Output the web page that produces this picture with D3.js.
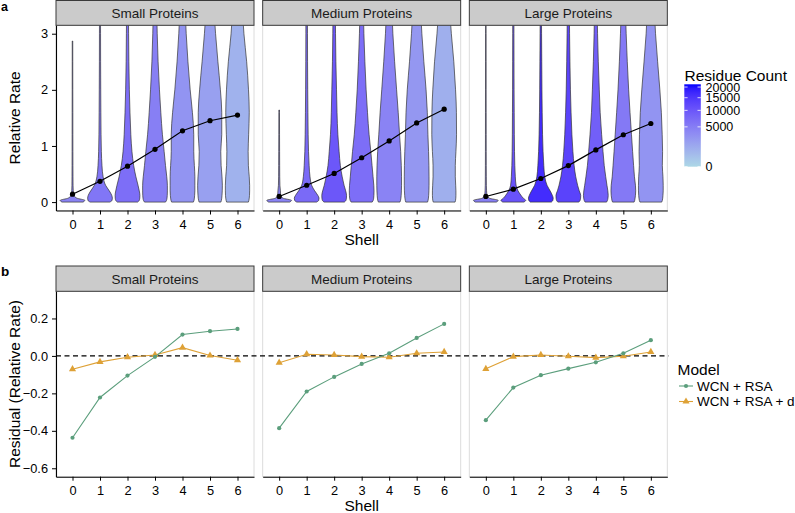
<!DOCTYPE html>
<html><head><meta charset="utf-8">
<script src="https://cdn.jsdelivr.net/npm/d3@7"></script>
<style>
body{margin:0;background:#fff}
text{font-family:"Liberation Sans",Arial,Helvetica,sans-serif;fill:#000}
</style>
</head><body>
<svg id="chart" width="795" height="513"></svg>
<script>
// ---------------- data ----------------
const panels = ["Small Proteins", "Medium Proteins", "Large Proteins"];
const shells = [0, 1, 2, 3, 4, 5, 6];

// mean relative rate per shell (black line, panel a)
const meanSmall  = [0.14, 0.37, 0.64, 0.94, 1.27, 1.45, 1.55];
const meanMedium = [0.10, 0.30, 0.51, 0.79, 1.09, 1.41, 1.655];
const meanLarge  = [0.10, 0.23, 0.42, 0.65, 0.93, 1.20, 1.40];

// residue count per shell (violin fill)
const countSmall  = [4300, 5800, 6700, 4700, 2800, 1900, 860];
const countMedium = [4300, 7200, 9900, 6700, 4300, 2500, 1000];
const countLarge  = [4700, 10500, 16600, 13000, 8800, 5400, 2800];
const countLimits = [0, 21400];
const legendTicks = [0, 5000, 10000, 15000, 20000];

// violin outlines: relative half-width at each rate level
const violinLevels = [0, 0.03, 0.07, 0.12, 0.2, 0.3, 0.45, 0.65, 0.9, 1.2, 1.6, 2.0, 2.5, 3.0, 3.5];
const violinSmall = [
  [0.85,1.0,0.35,0.12,0.06,0.045,0.04,0.035,0.032,0.03,0.028,0.025,0.022,0.02,0.02],
  [0.8,0.97,1.0,0.95,0.75,0.45,0.25,0.16,0.11,0.085,0.07,0.06,0.05,0.045,0.04],
  [0.82,0.95,0.99,1.0,0.95,0.85,0.68,0.5,0.36,0.27,0.2,0.15,0.11,0.09,0.07],
  [0.85,0.93,0.97,0.99,1.0,1.0,0.95,0.85,0.74,0.6,0.47,0.36,0.25,0.18,0.13],
  [0.88,0.93,0.96,0.98,1.0,1.0,1.0,0.96,0.91,0.91,0.8,0.62,0.44,0.3,0.2],
  [0.88,0.92,0.95,0.97,0.99,1.0,0.97,0.9,0.87,0.95,0.95,0.84,0.64,0.45,0.3],
  [0.88,0.92,0.95,0.97,0.98,0.98,0.95,0.88,0.86,0.9,0.95,0.89,0.74,0.52,0.38]
];
const violinMedium = [
  [0.85,1.0,0.3,0.12,0.1,0.06,0.045,0.04,0.035,0.03,0.025,0.025,0.02,0.02,0.02],
  [0.8,0.97,1.0,0.9,0.65,0.4,0.27,0.2,0.15,0.12,0.1,0.085,0.072,0.065,0.06],
  [0.82,0.95,0.99,1.0,0.93,0.8,0.65,0.5,0.4,0.3,0.23,0.19,0.14,0.11,0.09],
  [0.85,0.93,0.97,0.99,1.0,0.98,0.92,0.84,0.74,0.6,0.47,0.36,0.26,0.18,0.13],
  [0.87,0.92,0.95,0.97,0.99,1.0,1.0,0.98,0.93,0.84,0.73,0.6,0.44,0.3,0.2],
  [0.88,0.92,0.95,0.97,0.99,1.0,1.0,0.99,0.96,0.91,0.86,0.76,0.58,0.42,0.3],
  [0.88,0.92,0.94,0.95,0.95,0.93,0.9,0.9,0.95,1.0,0.99,0.92,0.78,0.58,0.42]
];
const violinLarge = [
  [0.85,1.0,0.28,0.1,0.06,0.045,0.04,0.035,0.032,0.03,0.028,0.026,0.024,0.022,0.02],
  [0.85,1.0,0.8,0.62,0.38,0.22,0.16,0.12,0.095,0.08,0.07,0.06,0.055,0.05,0.045],
  [0.85,0.97,1.0,0.93,0.75,0.5,0.32,0.24,0.18,0.14,0.11,0.09,0.075,0.06,0.05],
  [0.85,0.95,0.99,1.0,0.88,0.75,0.6,0.47,0.37,0.29,0.22,0.17,0.13,0.1,0.08],
  [0.87,0.94,0.98,1.0,0.97,0.9,0.8,0.68,0.58,0.47,0.35,0.28,0.2,0.14,0.1],
  [0.87,0.92,0.95,0.98,1.0,0.98,0.9,0.83,0.75,0.66,0.54,0.43,0.32,0.23,0.16],
  [0.88,0.93,0.96,0.98,1.0,1.0,0.98,0.93,0.95,0.92,0.85,0.73,0.55,0.38,0.27]
];
const violinEndSmall  = [2.87, 3.5, 3.5, 3.5, 3.5, 3.5, 3.5];
const violinEndMedium = [1.64, 3.5, 3.5, 3.5, 3.5, 3.5, 3.5];
const violinEndLarge  = [3.5, 3.5, 3.5, 3.5, 3.5, 3.5, 3.5];

// panel b residuals
const models = ["WCN + RSA", "WCN + RSA + d"];
const residRsaSmall   = [-0.437, -0.222, -0.105, -0.005, 0.114, 0.132, 0.144];
const residDSmall     = [-0.071, -0.032, -0.007, 0.005, 0.044, 0.002, -0.023];
const residRsaMedium  = [-0.386, -0.190, -0.112, -0.043, 0.014, 0.096, 0.171];
const residDMedium    = [-0.036, 0.009, 0.005, -0.004, -0.007, 0.014, 0.021];
const residRsaLarge   = [-0.343, -0.169, -0.103, -0.068, -0.034, 0.014, 0.084];
const residDLarge     = [-0.069, -0.004, 0.005, -0.002, -0.009, -0.002, 0.021];

const yTicksTop = [0, 1, 2, 3];
const yTicksBottom = [-0.6, -0.4, -0.2, 0.0, 0.2];

// ---------------- layout ----------------
const svg = d3.select("#chart");
const FONT = '"Liberation Sans",Arial,Helvetica,sans-serif';
const panelX = [56, 262.67, 469.33];
const panelW = 198;
const topStrip = [0.5, 25.3], topPlot = [25.3, 210.5];
const botStrip = [266, 291.3], botPlot = [291.3, 476.7];
const modelColors = ["#5b9e7c", "#dea136"];

const yTop = d3.scaleLinear().domain([-0.15, 3.15]).range([topPlot[1], topPlot[0]]);
const yBot = d3.scaleLinear().domain([-0.645, 0.345]).range([botPlot[1], botPlot[0]]);
const fillScale = v => d3.interpolateLab("#ADD8E6", "#0000FF")(Math.sqrt((v - countLimits[0]) / (countLimits[1] - countLimits[0])));
const minus = s => s.replace("-", "\u2212");

const means = [meanSmall, meanMedium, meanLarge];
const counts = [countSmall, countMedium, countLarge];
const violins = [violinSmall, violinMedium, violinLarge];
const ends = [violinEndSmall, violinEndMedium, violinEndLarge];
const resRsa = [residRsaSmall, residRsaMedium, residRsaLarge];
const resD = [residDSmall, residDMedium, residDLarge];

const defs = svg.append("defs");

function strip(x, ys, label) {
  svg.append("rect").attr("x", x).attr("y", ys[0]).attr("width", panelW).attr("height", ys[1] - ys[0])
    .attr("fill", "#cbcbcb").attr("stroke", "#3a3a3a").attr("stroke-width", 1);
  svg.append("text").attr("x", x + panelW / 2).attr("y", (ys[0] + ys[1]) / 2).attr("dy", "0.36em")
    .attr("text-anchor", "middle").style("font-size", "13.5px").style("fill", "#1a1a1a").text(label);
}

function xAxis(x, yPix) {
  const g = svg.append("g").attr("transform", `translate(0,${yPix})`)
    .call(d3.axisBottom(x).tickValues(shells).tickSize(4).tickSizeOuter(0).tickPadding(5).tickFormat(d3.format("d")));
  g.select(".domain").attr("stroke", "#000").attr("stroke-width", 1.1);
  g.selectAll(".tick line").attr("stroke", "#000").attr("stroke-width", 1);
  g.selectAll("text").style("font-size", "12.8px").style("font-family", FONT).attr("fill", "#000");
}

function yAxis(y, ticks, fmt, xPix) {
  const g = svg.append("g").attr("transform", `translate(${xPix},0)`)
    .call(d3.axisLeft(y).tickValues(ticks).tickSize(4).tickSizeOuter(0).tickPadding(4).tickFormat(fmt));
  g.select(".domain").attr("stroke", "#000").attr("stroke-width", 1.1);
  g.selectAll(".tick line").attr("stroke", "#000").attr("stroke-width", 1);
  g.selectAll("text").style("font-size", "12.8px").style("font-family", FONT).attr("fill", "#000");
}

// ---------------- panel a ----------------
panels.forEach((name, p) => {
  const x0 = panelX[p];
  const x = d3.scaleLinear().domain([-0.6, 6.6]).range([x0, x0 + panelW]);
  const hwMax = 0.45 * (x(1) - x(0));

  svg.append("rect").attr("x", x0).attr("y", topPlot[0]).attr("width", panelW).attr("height", topPlot[1] - topPlot[0])
    .attr("fill", "none").attr("stroke", "#dcdcdc").attr("stroke-width", 1);

  const cid = "clipTop" + p;
  defs.append("clipPath").attr("id", cid).append("rect")
    .attr("x", x0).attr("y", topPlot[0]).attr("width", panelW).attr("height", topPlot[1] - topPlot[0]);
  const g = svg.append("g").attr("clip-path", `url(#${cid})`);

  shells.forEach((s, i) => {
    const w = violins[p][i], end = ends[p][i];
    const pts = [];
    for (let k = 0; k < violinLevels.length; k++) {
      if (violinLevels[k] < end) pts.push([violinLevels[k], w[k]]);
      else {
        const t = (end - violinLevels[k - 1]) / (violinLevels[k] - violinLevels[k - 1]);
        pts.push([end, w[k - 1] + t * (w[k] - w[k - 1])]);
        break;
      }
    }
    const cx = x(s);
    const area = d3.area().curve(d3.curveMonotoneY)
      .y(d => yTop(d[0])).x0(d => cx - d[1] * hwMax).x1(d => cx + d[1] * hwMax);
    g.append("path").attr("d", area(pts)).attr("fill", fillScale(counts[p][i]))
      .attr("stroke", "#333").attr("stroke-width", 0.7);
  });

  const line = d3.line().x((d, i) => x(shells[i])).y(d => yTop(d));
  g.append("path").attr("d", line(means[p])).attr("fill", "none").attr("stroke", "#000").attr("stroke-width", 1.2);
  g.selectAll("circle.m").data(means[p]).enter().append("circle")
    .attr("cx", (d, i) => x(shells[i])).attr("cy", d => yTop(d)).attr("r", 2.6).attr("fill", "#000");

  strip(x0, topStrip, name);
  xAxis(x, topPlot[1]);
  if (p === 0) yAxis(yTop, yTicksTop, d3.format("d"), x0);
});

// ---------------- panel b ----------------
panels.forEach((name, p) => {
  const x0 = panelX[p];
  svg.append("rect").attr("x", x0).attr("y", botPlot[0]).attr("width", panelW).attr("height", botPlot[1] - botPlot[0])
    .attr("fill", "none").attr("stroke", "#dcdcdc").attr("stroke-width", 1);
  strip(x0, botStrip, name);
});

// dashed zero line spanning all panels
svg.append("line").attr("x1", panelX[0]).attr("x2", panelX[2] + panelW + 1)
  .attr("y1", yBot(0)).attr("y2", yBot(0)).attr("stroke", "#000").attr("stroke-width", 1.1)
  .attr("stroke-dasharray", "5,3.5");

const tri = d3.symbol().type(d3.symbolTriangle).size(22);
panels.forEach((name, p) => {
  const x0 = panelX[p];
  const x = d3.scaleLinear().domain([-0.6, 6.6]).range([x0, x0 + panelW]);
  const line = d3.line().x((d, i) => x(shells[i])).y(d => yBot(d));
  [resD[p], resRsa[p]].forEach((series, k) => {
    const col = k === 0 ? modelColors[1] : modelColors[0];
    svg.append("path").attr("d", line(series)).attr("fill", "none").attr("stroke", col).attr("stroke-width", 1.1);
    if (k === 0) {
      svg.selectAll(null).data(series).enter().append("path").attr("d", tri)
        .attr("transform", (d, i) => `translate(${x(shells[i])},${yBot(d)})`).attr("fill", col);
    } else {
      svg.selectAll(null).data(series).enter().append("circle")
        .attr("cx", (d, i) => x(shells[i])).attr("cy", d => yBot(d)).attr("r", 2.1).attr("fill", col);
    }
  });
  xAxis(x, botPlot[1]);
  if (p === 0) yAxis(yBot, yTicksBottom, d => minus(d3.format(".1f")(d)), x0);
});

// ---------------- titles ----------------
svg.append("text").attr("x", 1).attr("y", 10.5).style("font-size", "12.5px").style("font-weight", "bold").text("a");
svg.append("text").attr("x", 1).attr("y", 275.5).style("font-size", "13.5px").style("font-weight", "bold").text("b");
const xMid = (panelX[0] + panelX[2] + panelW) / 2;
svg.append("text").attr("x", xMid).attr("y", 244.5).attr("text-anchor", "middle").style("font-size", "15.5px").text("Shell");
svg.append("text").attr("x", xMid).attr("y", 511).attr("text-anchor", "middle").style("font-size", "15.5px").text("Shell");
svg.append("text").attr("transform", `translate(19.5,${(topPlot[0] + topPlot[1]) / 2}) rotate(-90)`)
  .attr("text-anchor", "middle").style("font-size", "15.5px").text("Relative Rate");
svg.append("text").attr("transform", `translate(19.5,${(botPlot[0] + botPlot[1]) / 2}) rotate(-90)`)
  .attr("text-anchor", "middle").style("font-size", "15.5px").text("Residual (Relative Rate)");

// ---------------- colourbar legend ----------------
const cb = {x: 684.3, y: 84.3, w: 16.5, h: 82.4};
svg.append("text").attr("x", 684.5).attr("y", 80.5).style("font-size", "15.5px").text("Residue Count");
const grad = defs.append("linearGradient").attr("id", "cbGrad").attr("x1", 0).attr("y1", 1).attr("x2", 0).attr("y2", 0);
d3.range(0, 1.0001, 0.05).forEach(t => {
  grad.append("stop").attr("offset", t).attr("stop-color", d3.interpolateLab("#ADD8E6", "#0000FF")(t));
});
svg.append("rect").attr("x", cb.x).attr("y", cb.y).attr("width", cb.w).attr("height", cb.h).attr("fill", "url(#cbGrad)");
const cbScale = d3.scaleSqrt().domain(countLimits).range([cb.y + cb.h, cb.y]);
legendTicks.forEach(v => {
  const yy = cbScale(v);
  svg.append("line").attr("x1", cb.x).attr("x2", cb.x + 3.3).attr("y1", yy).attr("y2", yy).attr("stroke", "#fff").attr("stroke-width", 0.8);
  svg.append("line").attr("x1", cb.x + cb.w - 3.3).attr("x2", cb.x + cb.w).attr("y1", yy).attr("y2", yy).attr("stroke", "#fff").attr("stroke-width", 0.8);
  svg.append("text").attr("x", 705.5).attr("y", yy).attr("dy", "0.36em").style("font-size", "12.5px").text(v);
});

// ---------------- model legend ----------------
svg.append("text").attr("x", 677.5).attr("y", 375).style("font-size", "15.5px").text("Model");
models.forEach((m, k) => {
  const yy = 386 + k * 15.5;
  svg.append("line").attr("x1", 679).attr("x2", 693).attr("y1", yy).attr("y2", yy).attr("stroke", modelColors[k]).attr("stroke-width", 1.1);
  if (k === 0) svg.append("circle").attr("cx", 686).attr("cy", yy).attr("r", 2.1).attr("fill", modelColors[k]);
  else svg.append("path").attr("d", tri).attr("transform", `translate(686,${yy})`).attr("fill", modelColors[k]);
  svg.append("text").attr("x", 697).attr("y", yy).attr("dy", "0.36em").style("font-size", "13.5px").text(m);
});
</script>
</body></html>
